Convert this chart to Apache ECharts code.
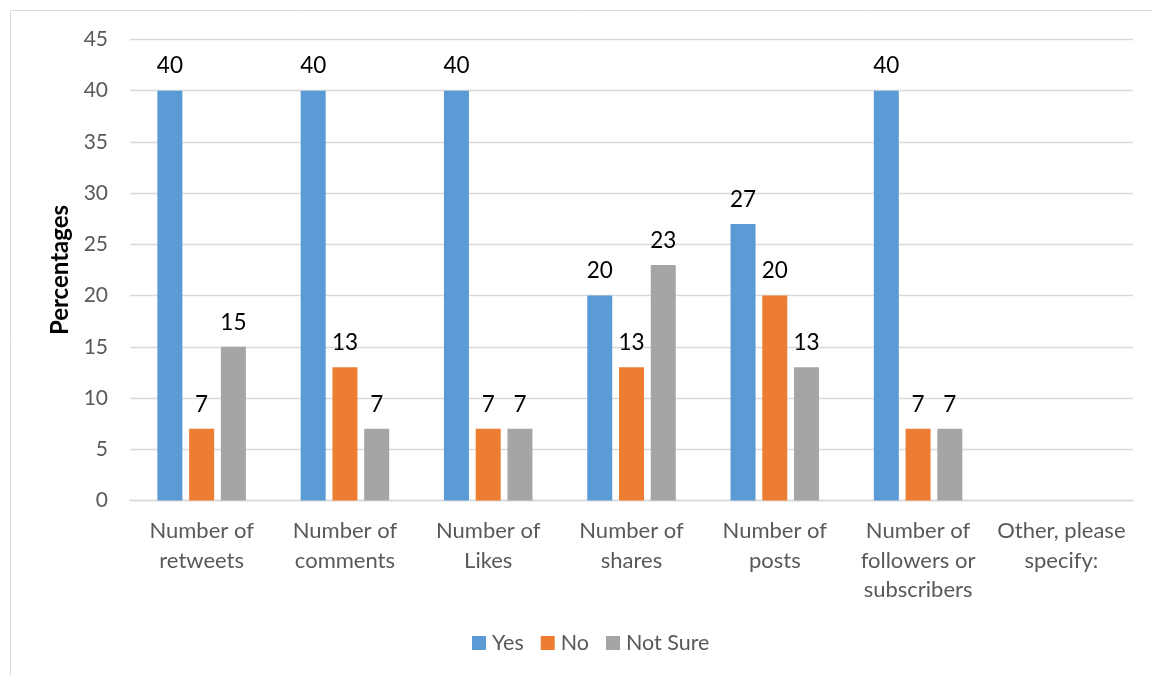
<!DOCTYPE html>
<html>
<head>
<meta charset="utf-8">
<script src="https://cdn.jsdelivr.net/npm/echarts@6/dist/echarts.min.js"></script>
<style>
html,body{margin:0;padding:0;background:#fff;}
#chart{width:1152px;height:675px;}
</style>
</head>
<body>
<div id="chart"></div>
<script>
const categories = ["Number of\nretweets", "Number of\ncomments", "Number of\nLikes", "Number of\nshares", "Number of\nposts", "Number of\nfollowers or\nsubscribers", "Other, please\nspecify:"];
const yesValues = [40, 40, 40, 20, 27, 40, null];
const noValues = [7, 13, 7, 13, 20, 7, null];
const notSureValues = [15, 7, 7, 23, 13, 7, null];
const seriesNames = ["Yes", "No", "Not Sure"];
const colors = ["#5B9BD5", "#ED7D31", "#A5A5A5"];
const FONT = "Lato";

const chart = echarts.init(document.getElementById('chart'));
function mk(name, data, color) {
  return {
    name: name, type: 'bar', data: data,
    barWidth: 25, barGap: '27%',
    itemStyle: { color: color },
    label: { show: true, position: 'top', distance: 13, color: '#000', fontSize: 22.5, fontFamily: FONT },
  };
}
chart.setOption({
  animation: false,
  graphic: [{
    type: 'rect', shape: { x: 10.5, y: 10.5, width: 1200, height: 700 },
    style: { fill: 'none', stroke: '#D9D9D9', lineWidth: 1 }, silent: true, z: -1
  }],
  grid: { left: 130, right: 19, top: 39.5, bottom: 174.5, containLabel: false },
  legend: {
    data: seriesNames, bottom: 16, left: 467, itemWidth: 14, itemHeight: 14, itemGap: 17,
    icon: 'rect',
    textStyle: { color: '#595959', fontSize: 21.5, fontFamily: FONT, padding: [0, 0, 0, 1] }
  },
  xAxis: {
    type: 'category', data: categories,
    axisLine: { lineStyle: { color: '#D9D9D9', width: 1.3 } },
    axisTick: { show: false },
    axisLabel: { color: '#595959', fontSize: 22, fontFamily: FONT, lineHeight: 29.5, margin: 16, interval: 0 }
  },
  yAxis: {
    type: 'value', min: 0, max: 45, interval: 5,
    name: 'Percentages', nameLocation: 'middle', nameGap: 56, nameRotate: 90,
    nameTextStyle: { color: '#000', fontSize: 24, fontWeight: 'bold', fontFamily: FONT },
    axisLine: { show: false }, axisTick: { show: false },
    splitLine: { lineStyle: { color: '#D9D9D9', width: 1.3 } },
    axisLabel: { color: '#595959', fontSize: 21, fontFamily: FONT, margin: 22 }
  },
  series: [mk(seriesNames[0], yesValues, colors[0]), mk(seriesNames[1], noValues, colors[1]), mk(seriesNames[2], notSureValues, colors[2])]
});
</script>
</body>
</html>
